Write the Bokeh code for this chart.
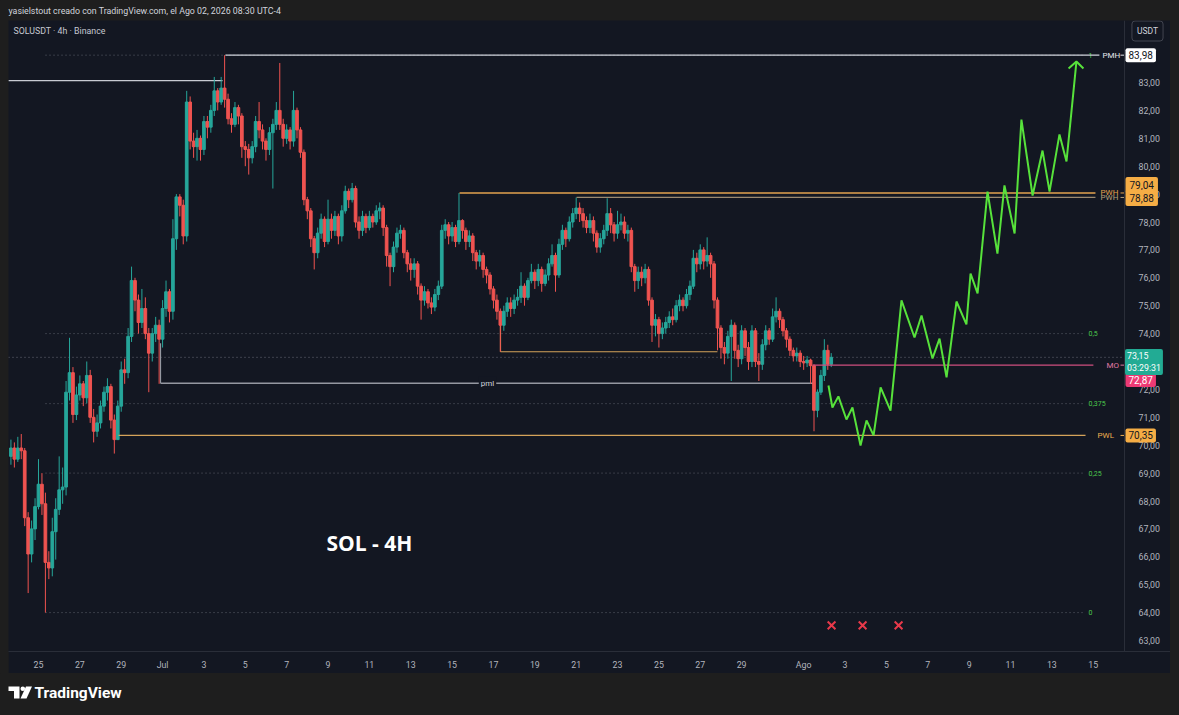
from bokeh.plotting import figure
from bokeh.models import Range1d, LinearAxis, FixedTicker, Label, Spacer, Span
from bokeh.layouts import column, row
from bokeh.embed import file_html
from bokeh.resources import INLINE
from bokeh.core.properties import value

# ---------------- data ----------------
first_open = 69.6
closes = [69.9, 69.5, 69.9, 69.8, 67.4, 66.1, 67.0, 67.8, 68.6, 67.9,
          65.8, 65.6, 66.9, 67.7, 68.4, 68.5, 71.9, 72.6, 71.1, 71.8,
          72.2, 71.7, 72.5, 71.0, 70.5, 70.8, 71.4, 71.9, 72.1, 70.9,
          70.2, 71.4, 72.7, 72.6, 73.9, 75.9, 75.2, 74.4, 74.9, 74.0,
          73.3, 74.0, 74.3, 73.8, 74.9, 75.5, 74.8, 77.4, 78.9, 78.6,
          77.5, 82.3, 80.9, 80.7, 81.0, 80.6, 81.6, 81.4, 82.0, 82.7,
          82.3, 82.8, 82.4, 81.7, 81.5, 82.1, 81.8, 80.7, 80.6, 80.3,
          80.7, 81.6, 81.3, 80.9, 80.6, 81.2, 81.5, 82.0, 81.5, 81.0,
          81.3, 80.9, 82.0, 81.3, 80.5, 78.8, 78.4, 77.4, 76.9, 77.6,
          78.1, 77.3, 78.1, 77.7, 78.2, 77.5, 78.4, 79.1, 78.8, 79.2,
          78.0, 77.7, 78.2, 77.8, 78.2, 78.0, 78.4, 78.5, 77.8, 76.8,
          76.4, 77.1, 77.6, 77.7, 76.9, 76.5, 76.3, 76.5, 75.7, 75.2,
          75.5, 75.1, 74.95, 75.4, 75.7, 77.7, 77.9, 77.5, 77.8, 77.3,
          78.05, 77.7, 77.3, 77.5, 76.9, 76.6, 76.8, 76.3, 76.1, 75.6,
          75.2, 74.8, 74.3, 74.8, 75.1, 74.9, 75.2, 75.3, 75.7, 75.3,
          75.9, 76.2, 75.9, 76.3, 75.8, 76.1, 76.5, 76.8, 76.1, 77.2,
          77.7, 77.4, 78.0, 78.3, 78.5, 78.3, 78.05, 77.8, 78.05, 77.6,
          77.1, 77.4, 77.7, 78.3, 77.9, 77.6, 77.9, 78.0, 77.6, 77.7,
          76.4, 75.9, 76.2, 76.0, 76.3, 75.2, 74.3, 74.5, 74.0, 74.2,
          74.4, 74.6, 74.5, 75.0, 75.2, 75.0, 75.4, 75.7, 76.7, 76.5,
          77.0, 76.6, 76.8, 76.5, 75.2, 74.2, 73.5, 73.3, 73.9, 74.3,
          73.4, 73.1, 74.1, 73.5, 73.0, 74.1, 73.0, 72.9, 73.6, 74.1,
          73.8, 74.6, 74.8, 74.5, 74.1, 73.8, 73.4, 73.2, 73.3, 73.0,
          72.95, 73.05, 72.85, 71.25, 71.9, 72.5, 73.4, 72.9, 73.15]
highs = [70.2, 70.1, 70.3, 70.4, 69.9, 67.6, 67.3, 68.1, 69.5, 69.0,
         68.3, 66.2, 67.4, 68.1, 69.6, 69.2, 72.3, 73.85, 72.8, 72.1,
         72.5, 72.3, 73.0, 72.7, 71.3, 71.1, 71.6, 72.1, 72.4, 72.2,
         71.1, 71.6, 73.0, 73.1, 74.2, 76.4, 76.0, 75.4, 75.6, 75.3,
         74.2, 74.2, 74.6, 74.5, 75.2, 75.9, 75.6, 78.1, 79.0, 79.0,
         78.8, 82.7, 82.5, 81.2, 81.3, 81.1, 81.8, 81.8, 82.2, 83.2,
         82.8, 83.2, 83.98, 82.6, 81.9, 82.3, 82.2, 81.9, 80.9, 80.8,
         80.9, 81.8, 82.3, 81.5, 81.0, 81.4, 81.7, 82.3, 83.7, 81.7,
         81.5, 81.4, 82.7, 82.1, 81.4, 80.6, 78.9, 78.5, 77.5, 77.8,
         78.3, 78.2, 78.8, 78.3, 78.4, 78.3, 78.6, 79.3, 79.2, 79.4,
         79.3, 78.2, 78.4, 78.3, 78.4, 78.3, 78.6, 78.7, 78.6, 77.9,
         76.9, 77.3, 77.8, 77.9, 77.8, 77.0, 76.7, 76.7, 76.6, 75.8,
         75.7, 75.6, 75.3, 75.6, 75.9, 77.9, 78.1, 78.0, 78.0, 77.9,
         79.04, 78.1, 77.8, 77.7, 77.6, 77.0, 77.0, 76.9, 76.4, 76.2,
         75.7, 75.4, 74.9, 75.0, 75.3, 75.3, 75.4, 75.6, 76.2, 75.8,
         76.0, 76.5, 76.3, 76.5, 76.4, 76.3, 76.7, 77.2, 76.9, 77.4,
         77.9, 77.8, 78.2, 78.5, 78.88, 78.7, 78.5, 78.2, 78.3, 78.2,
         77.7, 77.6, 77.9, 78.85, 78.5, 78.0, 78.4, 78.3, 78.2, 77.9,
         77.8, 76.5, 76.4, 76.4, 76.5, 76.4, 75.3, 74.7, 74.6, 74.4,
         74.6, 74.8, 74.9, 75.2, 75.4, 75.3, 75.6, 75.9, 77.0, 76.9,
         77.2, 77.1, 77.45, 76.9, 76.6, 75.3, 74.3, 73.7, 74.1, 74.5,
         74.4, 73.6, 74.3, 74.2, 73.7, 74.3, 74.2, 73.3, 73.8, 74.3,
         74.2, 74.9, 75.3, 74.9, 74.6, 74.2, 73.9, 73.5, 73.5, 73.4,
         73.2, 73.2, 73.1, 72.9, 72.0, 72.7, 73.8, 73.6, 73.3]
lows = [69.3, 69.2, 69.4, 69.5, 67.1, 64.7, 65.8, 66.6, 67.7, 67.5,
        64.0, 65.2, 65.3, 65.9, 67.5, 67.9, 68.2, 71.6, 70.8, 70.9,
        71.6, 71.4, 71.5, 70.8, 70.1, 70.3, 70.6, 71.2, 71.6, 70.6,
        69.7, 70.35, 71.2, 72.2, 72.4, 73.7, 74.8, 74.0, 74.2, 73.8,
        71.9, 73.0, 73.7, 72.2, 73.5, 74.6, 74.4, 74.5, 77.0, 78.2,
        77.2, 77.3, 80.6, 80.3, 80.2, 80.2, 80.4, 81.0, 81.2, 81.8,
        82.0, 82.2, 82.1, 81.5, 81.2, 81.4, 81.5, 80.3, 80.0, 79.7,
        80.1, 80.5, 81.0, 80.6, 80.2, 80.4, 79.2, 81.3, 81.3, 80.7,
        80.8, 80.6, 80.7, 81.0, 80.3, 78.6, 78.1, 77.1, 76.3, 76.7,
        77.4, 77.1, 77.2, 77.4, 77.5, 77.2, 77.3, 78.3, 78.5, 78.7,
        77.8, 77.4, 77.5, 77.6, 77.7, 77.8, 77.9, 78.1, 77.5, 76.4,
        75.7, 76.2, 76.9, 77.4, 76.7, 76.2, 75.9, 76.0, 75.4, 74.5,
        75.0, 74.9, 74.7, 74.8, 75.2, 75.6, 77.4, 77.2, 77.3, 77.1,
        77.2, 77.4, 77.0, 77.1, 76.6, 76.3, 76.4, 76.0, 75.8, 75.4,
        74.9, 74.5, 73.35, 74.1, 74.6, 74.6, 74.7, 75.0, 75.1, 75.0,
        75.2, 75.8, 75.6, 75.7, 75.5, 75.7, 75.9, 76.4, 75.5, 76.0,
        77.0, 77.1, 77.3, 77.8, 78.1, 78.0, 77.8, 77.6, 77.6, 77.3,
        76.9, 76.9, 77.2, 77.5, 77.6, 77.3, 77.4, 77.7, 77.4, 77.3,
        76.2, 75.5, 75.6, 75.7, 75.8, 75.0, 73.7, 73.9, 73.5, 73.8,
        74.0, 74.2, 74.3, 74.4, 74.8, 74.8, 74.9, 75.2, 75.6, 76.2,
        76.3, 76.3, 76.4, 76.0, 74.9, 73.4, 73.1, 72.9, 73.1, 72.3,
        73.1, 72.8, 72.9, 73.2, 72.7, 72.8, 72.8, 72.3, 72.7, 73.4,
        73.6, 73.7, 74.4, 74.2, 73.9, 73.5, 73.2, 73.0, 73.0, 72.8,
        72.7, 72.8, 72.2, 70.5, 71.0, 71.8, 72.3, 72.7, 72.8]
candle_start_day = -4.0 / 3.0      # Jun 23 16:00, in days from Jun 25 00:00
candle_step_day = 1.0 / 6.0        # 4h candles

date_ticks = [0, 2, 4, 6, 8, 10, 12, 14, 16, 18, 20, 22, 24, 26, 28, 30, 32, 34,
              37, 39, 41, 43, 45, 47, 49, 51]
date_labels = ["25", "27", "29", "Jul", "3", "5", "7", "9", "11", "13", "15", "17",
               "19", "21", "23", "25", "27", "29", "Ago", "3", "5", "7", "9", "11",
               "13", "15"]
price_ticks = list(range(63, 84))
price_labels = ["%d,00" % v for v in price_ticks]

fib_levels = [64.0, 69.0, 71.49, 74.0, 83.98]
fib_names = ["0", "0,25", "0,375", "0,5", "1"]
fib_start_day = 0.34
fib_end_day = 50.63
current_price = 73.15

level_names = ["PMH", "PWH", "PWH", "MO", "PWL"]
level_prices = [83.98, 79.04, 78.88, 72.87, 70.35]
level_start = [9.04, 20.36, 26.02, 37.43, 3.87]
level_end = [51.30, 51.11, 51.11, 51.01, 50.63]
level_colors = ["#d1d4dc", "#e3a34f", "#9c8a70", "#cf4f7f", "#d4a35a"]
level_text_colors = ["#e6e8ee", "#e3a34f", "#b7a07a", "#e07aa5", "#eeb050"]
level_boxes = ["83,98", "79,04", "78,88", "72,87", "70,35"]
level_box_colors = ["#ffffff", "#f5ad45", "#f5ad45", "#ec3a74", "#f5ad45"]
level_box_text = ["#131722", "#131722", "#131722", "#ffffff", "#131722"]

june_high = 83.07
june_high_days = [-1.46, 8.9]
pml_price = 72.22
pml_days = [5.90, 37.48]
pml_tick_prices = [73.65, 72.22]
box_low_price = 73.35
box_low_days = [22.34, 32.83]
box_tick_prices = [74.8, 73.35]

proj_days = [38.20, 38.39, 38.68, 39.07, 39.36, 39.75, 40.04, 40.38, 40.72, 41.20,
             41.73, 42.36, 42.70, 43.23, 43.57, 43.91, 44.39, 44.87, 45.07, 45.41,
             45.89, 46.37, 46.71, 47.20, 47.53, 48.07, 48.55, 48.89, 49.37, 49.71,
             50.19]
proj_prices = [72.14, 71.35, 71.75, 70.92, 71.35, 69.99, 70.89, 70.35, 72.07, 71.24,
               75.19, 73.86, 74.65, 73.11, 73.82, 72.43, 75.15, 74.33, 76.15, 75.44,
               79.09, 76.87, 79.31, 77.59, 81.67, 78.95, 80.56, 79.09, 81.14, 80.17,
               83.75]
arrow_days = [49.81, 50.19, 50.53]
arrow_prices = [83.50, 83.75, 83.50]
x_mark_days = [38.35, 39.85, 41.59]
x_mark_prices = [63.54, 63.54, 63.54]

# ---------------- styling ----------------
BG = "#131722"
OUTER = "#1e1e1e"
UP = "#26a69a"
DOWN = "#ef5350"
GREEN = "#57e23b"
FONT = "Roboto"
PAGE_W = 1179


def px2d(x):
    return (x - 38.0) / 20.68


def py2p(y):
    return 83.0 - (y - 82.0) / 27.9


# ---------------- header ----------------
hdr = figure(width=PAGE_W, height=20, x_range=Range1d(0, PAGE_W), y_range=Range1d(20, 0),
             output_backend="svg", toolbar_location=None, x_axis_location=None,
             y_axis_location=None, background_fill_color=OUTER, border_fill_color=OUTER,
             min_border=0, outline_line_color=None)
hdr.grid.visible = False
hdr.text(x=[8], y=[10.5], text=["yasielstout creado con TradingView.com, el Ago 02, 2026 08:30 UTC-4"],
         text_font=value(FONT), text_font_size="8.8px", text_color="#d1d4dc",
         text_baseline="middle", text_align="left")

# ---------------- main chart ----------------
p = figure(width=1162, height=653, x_range=Range1d(px2d(8), px2d(1170)),
           y_range=Range1d(py2p(651), py2p(20)), output_backend="svg",
           toolbar_location=None, y_axis_location=None,
           background_fill_color=BG, border_fill_color=BG,
           min_border_left=0, min_border_right=0, min_border_top=0,
           min_border_bottom=22, outline_line_color=None)
p.grid.visible = False

xa = p.xaxis[0]
xa.ticker = FixedTicker(ticks=date_ticks)
xa.major_label_overrides = {t: l for t, l in zip(date_ticks, date_labels)}
xa.axis_line_color = "#2a2e39"
xa.major_tick_line_color = None
xa.minor_tick_line_color = None
xa.major_label_text_color = "#b2b5be"
xa.major_label_text_font = FONT
xa.major_label_text_font_size = "8.8px"
xa.major_label_standoff = 2

# price scale: real axis, labels drawn back inside the price panel
ya = LinearAxis(ticker=FixedTicker(ticks=price_ticks),
                major_label_overrides={t: l for t, l in zip(price_ticks, price_labels)})
ya.axis_line_color = None
ya.major_tick_line_color = None
ya.minor_tick_line_color = None
ya.major_label_text_color = "#b2b5be"
ya.major_label_text_font = FONT
ya.major_label_text_font_size = "8.8px"
ya.major_label_standoff = -38
p.add_layout(ya, "right")

# separator between chart and price scale
p.add_layout(Span(location=px2d(1124), dimension="height", line_color="#2a2e39", line_width=1))

# fib levels (dotted)
for lv in fib_levels:
    p.line([fib_start_day, fib_end_day], [lv, lv], line_color="#5d606b",
           line_dash="1 3", line_width=1)
p.text(x=[px2d(1088)] * len(fib_levels), y=fib_levels, text=fib_names,
       text_font=value(FONT), text_font_size="7px", text_color="#4cc84c",
       text_baseline="middle", text_align="left")

# current price dotted line
p.line([px2d(8), px2d(1124)], [current_price, current_price], line_color="#6a6d78",
       line_dash="1 3", line_width=1)

# other structure lines
p.line(june_high_days, [june_high, june_high], line_color="#c8cbd3", line_width=1.3)
p.line(pml_days, [pml_price, pml_price], line_color="#9598a1", line_width=1.3)
p.line([pml_days[0], pml_days[0]], pml_tick_prices, line_color="#9598a1", line_width=1.2)
p.line(box_low_days, [box_low_price, box_low_price], line_color="#d4a35a", line_width=1.2)
p.line([box_low_days[0], box_low_days[0]], box_tick_prices, line_color="#d4a35a", line_width=1.2)

# candles
n = len(closes)
opens = [first_open] + closes[:-1]
t = [candle_start_day + i * candle_step_day for i in range(n)]
cols = [UP if c >= o else DOWN for o, c in zip(opens, closes)]
p.segment(x0=t, y0=lows, x1=t, y1=highs, line_color=cols, line_width=1)
p.vbar(x=t, width=0.13, top=[max(o, c) for o, c in zip(opens, closes)],
       bottom=[min(o, c) for o, c in zip(opens, closes)], fill_color=cols, line_color=cols)

# key levels with labels
for pr, s, e, c in zip(level_prices, level_start, level_end, level_colors):
    p.line([s, e], [pr, pr], line_color=c, line_width=1.3)
lab_px = [1102, 1100, 1100, 1106, 1097]
for name, pr, tc, lx in zip(level_names, level_prices, level_text_colors, lab_px):
    p.text(x=[px2d(lx)], y=[pr], text=[name], text_font=value(FONT),
           text_font_size="8px", text_color=tc, text_baseline="middle", text_align="left")
    p.line([px2d(1120), px2d(1124)], [pr, pr], line_color=tc, line_width=1)

# pml label
p.add_layout(Label(x=px2d(487), y=pml_price, text="pml", text_align="center",
                   text_baseline="middle", background_fill_color=BG,
                   text_color="#d1d4dc", text_font=FONT, text_font_size="8px", padding=2))

# projection
p.line(proj_days, proj_prices, line_color=GREEN, line_width=2)
p.line(arrow_days, arrow_prices, line_color=GREEN, line_width=2)
p.scatter(x_mark_days, x_mark_prices, marker="x", size=11, line_color="#e8394a", line_width=2)

# texts
p.text(x=[px2d(326)], y=[py2p(542)], text=["SOL - 4H"], text_font=value("Open Sans"),
       text_font_size="21px", text_font_style="bold", text_color="#ffffff",
       text_baseline="middle", text_align="left")
p.text(x=[px2d(13)], y=[py2p(30.5)], text=["SOLUSDT · 4h · Binance"], text_font=value(FONT),
       text_font_size="8.8px", text_color="#c5c8d0", text_baseline="middle", text_align="left")

# price-scale boxes
box_y = {"83,98": 83.98, "79,04": py2p(184.5), "78,88": py2p(197.5),
         "72,87": py2p(379.5), "70,35": 70.35}
box_pad = {"83,98": 3, "79,04": 4, "78,88": 4, "72,87": 3, "70,35": 3}
for txt, bg, fg in zip(level_boxes, level_box_colors, level_box_text):
    p.add_layout(Label(x=px2d(1125), y=box_y[txt], text=txt, text_align="left",
                       text_baseline="middle", background_fill_color=bg, text_color=fg,
                       text_font=FONT, text_font_size="10px", padding=box_pad[txt],
                       border_radius=2))
p.add_layout(Label(x=px2d(1124.5), y=py2p(361.5), text="73,15\n03:29:31", text_align="left",
                   text_baseline="middle", background_fill_color="#22ab94", text_color="#ffffff",
                   text_font=FONT, text_font_size="8.8px", padding=2, border_radius=2))
p.add_layout(Label(x=px2d(1147), y=py2p(30.5), text="USDT", text_align="center",
                   text_baseline="middle", background_fill_color=BG, text_color="#d1d4dc",
                   border_line_color="#434651", text_font=FONT, text_font_size="8.5px",
                   padding=5, border_radius=3))

# ---------------- footer ----------------
ftr = figure(width=PAGE_W, height=42, x_range=Range1d(0, PAGE_W), y_range=Range1d(715, 673),
             output_backend="svg", toolbar_location=None, x_axis_location=None,
             y_axis_location=None, background_fill_color=OUTER, border_fill_color=OUTER,
             min_border=0, outline_line_color=None)
ftr.grid.visible = False
ftr.patches(xs=[[8, 19, 19, 13.5, 13.5, 8], [25.5, 31.5, 26, 20]],
            ys=[[686, 686, 698, 698, 690.5, 690.5], [686, 686, 698, 698]],
            fill_color="#ffffff", line_color=None)
ftr.scatter(x=[22.3], y=[688.3], size=4.6, fill_color="#ffffff", line_color=None)
ftr.text(x=[34], y=[692], text=["TradingView"], text_font=value(FONT),
         text_font_size="15.5px", text_font_style="bold", text_color="#ffffff",
         text_baseline="middle", text_align="left")

layout = column(hdr, row(Spacer(width=8, height=653), p, Spacer(width=9, height=653)), ftr)
html = file_html(layout, INLINE)
html = html.replace("</head>", "<style>html,body{background:#1e1e1e;}</style></head>")
open("out.html", "w").write(html)
